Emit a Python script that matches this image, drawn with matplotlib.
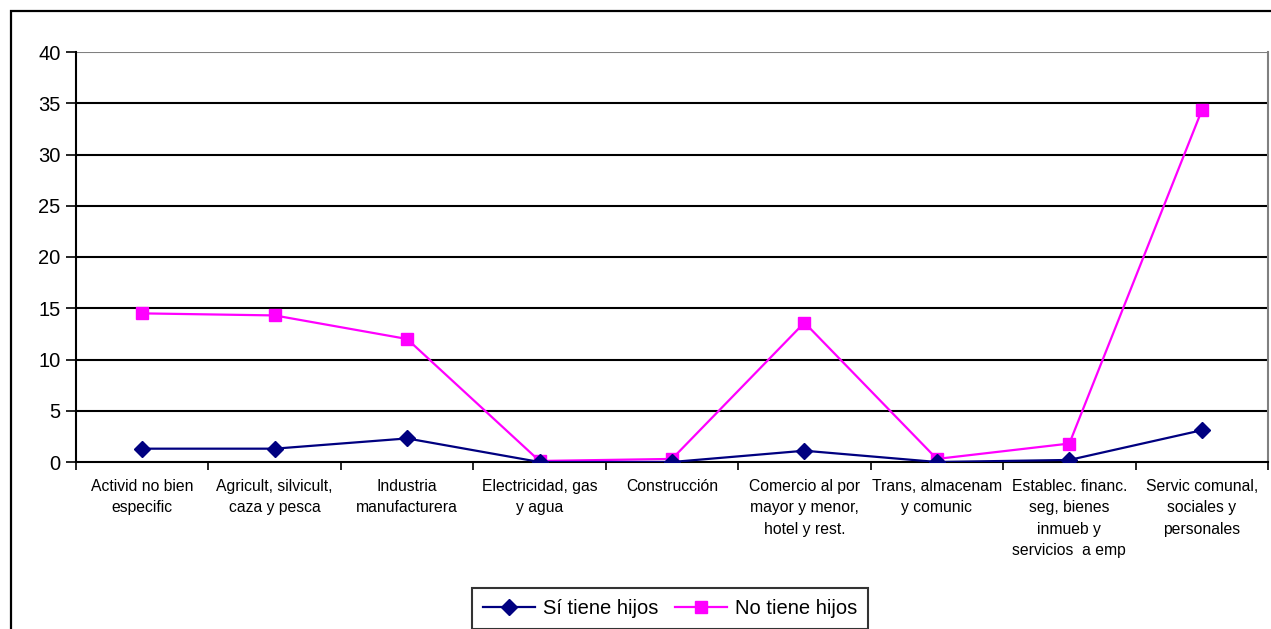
import matplotlib
matplotlib.use("Agg")
import matplotlib.pyplot as plt
from matplotlib.patches import Rectangle
import numpy as np

categories = [
    "Activid no bien\nespecific",
    "Agricult, silvicult,\ncaza y pesca",
    "Industria\nmanufacturera",
    "Electricidad, gas\ny agua",
    "Construcción",
    "Comercio al por\nmayor y menor,\nhotel y rest.",
    "Trans, almacenam\ny comunic",
    "Establec. financ.\nseg, bienes\ninmueb y\nservicios  a emp",
    "Servic comunal,\nsociales y\npersonales",
]
si_tiene = [1.3, 1.3, 2.3, 0.0, 0.0, 1.1, 0.0, 0.2, 3.1]
no_tiene = [14.5, 14.3, 12.0, 0.1, 0.3, 13.6, 0.3, 1.8, 34.3]
y_ticks = [0, 5, 10, 15, 20, 25, 30, 35, 40]

plt.rcParams['font.family'] = ['Liberation Sans', 'DejaVu Sans']

W, H = 1271, 629
fig = plt.figure(figsize=(W / 100, H / 100), dpi=100)
ax = fig.add_axes([76 / W, 1 - 462 / H, (1268 - 76) / W, (462 - 52) / H])

x = np.arange(len(categories))
ax.plot(x, si_tiene, color='#000080', lw=1.6, marker='D', markersize=8,
        label='Sí tiene hijos', zorder=4)
ax.plot(x, no_tiene, color='#FF00FF', lw=1.6, marker='s', markersize=8.5,
        label='No tiene hijos', zorder=3)

ax.set_xlim(-0.5, len(categories) - 0.5)
ax.set_ylim(0, 40)
ax.set_yticks(y_ticks)
ax.set_yticklabels([str(v) for v in y_ticks], fontsize=14.5)
for v in y_ticks[1:]:
    ax.axhline(v, color='black' if v < 40 else '#808080', lw=1.5, zorder=1)

ax.set_xticks(x)
ax.set_xticklabels(categories, fontsize=11.3, linespacing=1.55, va='top')
ax.tick_params(axis='x', which='major', length=0, pad=12)
ax.set_xticks(np.arange(len(categories) + 1) - 0.5, minor=True)
ax.tick_params(axis='x', which='minor', length=6, width=1.2, direction='out')
ax.tick_params(axis='y', length=7, width=1.2, direction='out', pad=4)

ax.spines['top'].set_visible(False)
ax.spines['right'].set_color('#808080')
ax.spines['right'].set_linewidth(1.5)
ax.spines['left'].set_linewidth(1.5)
ax.spines['bottom'].set_linewidth(1.5)

leg = ax.legend(loc='upper center', bbox_to_anchor=(670 / W, 1 - 588 / H),
                bbox_transform=fig.transFigure, ncol=2, fontsize=14.5,
                frameon=True, fancybox=False, edgecolor='black',
                borderpad=0.55, handlelength=2.6, columnspacing=0.8,
                handletextpad=0.4, borderaxespad=0)
leg.get_frame().set_linewidth(1.5)

frame = Rectangle((11 / W, -0.1), 1.5, 1 - 11 / H + 0.1, transform=fig.transFigure,
                  fill=False, edgecolor='black', lw=1.6, clip_on=False)
fig.patches.append(frame)

fig.savefig('out.png', dpi=100)
